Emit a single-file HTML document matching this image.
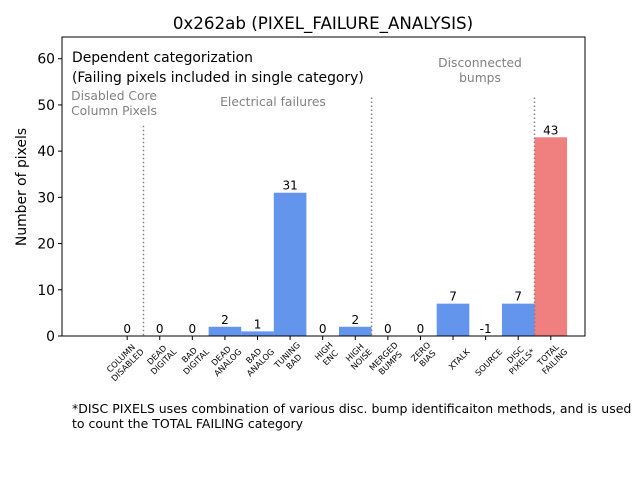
<!DOCTYPE html>
<html><head><meta charset="utf-8"><style>
body{margin:0;background:#fff}
svg{display:block;font-family:"DejaVu Sans","Liberation Sans",sans-serif}
</style></head><body>
<svg id="chart" width="640" height="480">
<text x="323" y="29" font-size="16.7" text-anchor="middle">0x262ab (PIXEL_FAILURE_ANALYSIS)</text>
<g id="plot"></g>
<text x="72" y="62" font-size="13.9">Dependent categorization</text>
<text x="72" y="82" font-size="13.9">(Failing pixels included in single category)</text>
<text x="114" y="100" font-size="12.3" fill="#808080" text-anchor="middle">Disabled Core</text>
<text x="114" y="115" font-size="12.3" fill="#808080" text-anchor="middle">Column Pixels</text>
<text x="273" y="106" font-size="12.3" fill="#808080" text-anchor="middle">Electrical failures</text>
<text x="480" y="67" font-size="12.3" fill="#808080" text-anchor="middle">Disconnected</text>
<text x="480" y="82" font-size="12.3" fill="#808080" text-anchor="middle">bumps</text>
<text transform="translate(26,187) rotate(-90)" font-size="13.9" text-anchor="middle">Number of pixels</text>
<text x="72" y="413" font-size="12.5">*DISC PIXELS uses combination of various disc. bump identificaiton methods, and is used</text>
<text x="72" y="428" font-size="12.5">to count the TOTAL FAILING category</text>
</svg>
<script>
const categories=[["COLUMN","DISABLED"],["DEAD","DIGITAL"],["BAD","DIGITAL"],["DEAD","ANALOG"],["BAD","ANALOG"],["TUNING","BAD"],["HIGH","ENC"],["HIGH","NOISE"],["MERGED","BUMPS"],["ZERO","BIAS"],["XTALK"],["SOURCE"],["DISC","PIXELS*"],["TOTAL","FAILING"]];
const values=[0,0,0,2,1,31,0,2,0,0,7,-1,7,43];
const yTicks=[0,10,20,30,40,50,60];
const separators=[0.5,7.5,12.5];
const separatorTops=[45.5,51.6,51.6];
const L=62,R=585,T=37,B=336,xmin=-2,xmax=14.05,ymin=0,ymax=64.7;
const NS="http://www.w3.org/2000/svg";
const sx=v=>L+(v-xmin)/(xmax-xmin)*(R-L);
const sy=v=>B-(v-ymin)/(ymax-ymin)*(B-T);
const g=document.getElementById('plot');
function mk(t,a){const e=document.createElementNS(NS,t);for(const k in a)e.setAttribute(k,a[k]);g.appendChild(e);return e;}
const bw=sx(1)-sx(0);
values.forEach((v,i)=>{
  const top=sy(Math.max(v,0)),base=sy(0);
  const r=mk('rect',{x:sx(i)-bw/2,y:Math.min(top,base),width:bw,height:Math.abs(base-top),fill:i===13?'#f08080':'#6495ed'});
  
  
  const t=mk('text',{x:sx(i),y:sy(Math.max(v,0))-3,'font-size':12,'text-anchor':'middle'});
  t.textContent=v;
  
  
});
separators.forEach((s,i)=>{
  const l=mk('line',{x1:sx(s),x2:sx(s),y1:sy(separatorTops[i]),y2:B,stroke:'#808080','stroke-width':1.5,'stroke-dasharray':'1.5,2.5'});
  
  
});
const fr=mk('rect',{x:L,y:T,width:R-L,height:B-T,fill:'none',stroke:'#000','stroke-width':1});


yTicks.forEach(v=>{
  const l=mk('line',{x1:L-4,x2:L,y1:sy(v),y2:sy(v),stroke:'#000'});
  
  
  const t=mk('text',{x:L-7,y:sy(v)+5,'font-size':13.9,'text-anchor':'end'});
  t.textContent=v;
  
  
});
categories.forEach((c,i)=>{
  const l=mk('line',{x1:sx(i),x2:sx(i),y1:B,y2:B+4,stroke:'#000'});
  
  
  const grp=mk('g',{transform:`translate(${sx(i)+13},${B+12}) rotate(-45)`});
  
  
  const ts=c.map((line,j)=>{const t=document.createElementNS(NS,'text');t.setAttribute('font-size','8.3');t.setAttribute('y',j*9.5-(c.length-1)*9.5+6);t.textContent=line;grp.appendChild(t);return t;});
  const w=Math.max(...ts.map(t=>t.getComputedTextLength()));
  ts.forEach(t=>{t.setAttribute('x',-w/2);t.setAttribute('text-anchor','middle');});
});
</script>
</body></html>
